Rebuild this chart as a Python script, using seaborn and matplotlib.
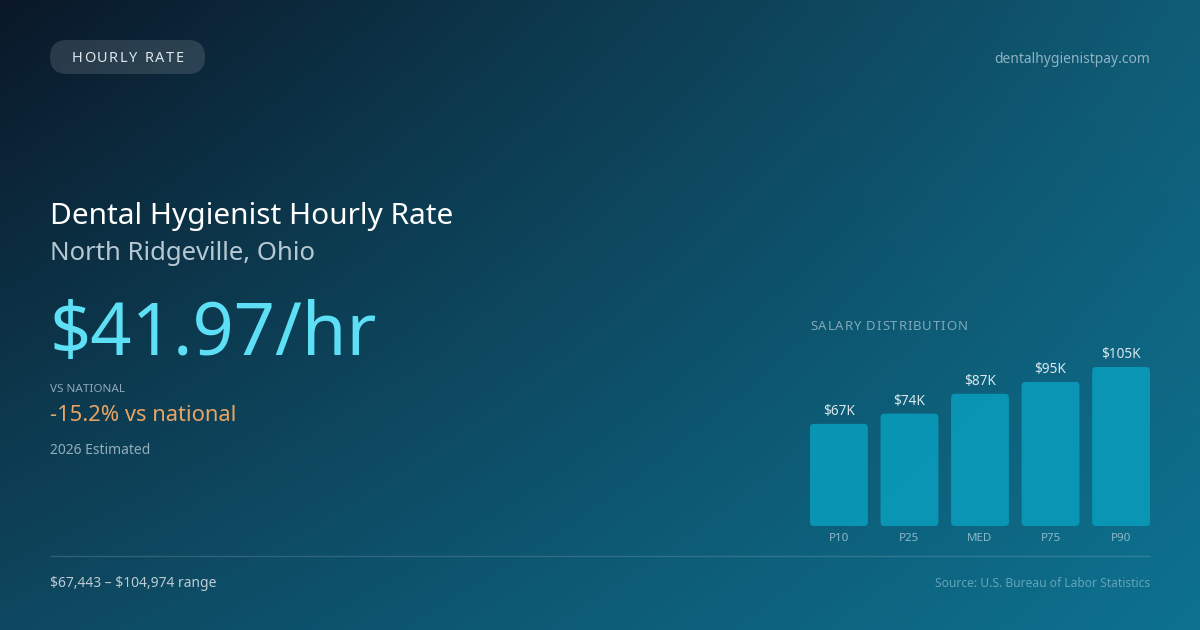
import numpy as np
import pandas as pd
import matplotlib.pyplot as plt
from matplotlib.patches import FancyBboxPatch
from matplotlib.font_manager import FontProperties
import seaborn as sns

# salary percentiles (annual, USD)
percentiles = ["P10", "P25", "MED", "P75", "P90"]
salaries = [67443, 74200, 87298, 95100, 104974]

title = "Dental Hygienist Hourly Rate"
location = "North Ridgeville, Ohio"
hourly = 41.97
vs_national = -15.2

sns.set_theme(style="white")
plt.rcParams['font.family'] = ['Noto Sans', 'DejaVu Sans']

W, H = 1200, 630
fig = plt.figure(figsize=(12, 6.3), dpi=100)
renderer = fig.canvas.get_renderer()

# background canvas in pixel coordinates
bg = fig.add_axes([0, 0, 1, 1])
bg.set_xlim(0, W)
bg.set_ylim(H, 0)
bg.axis('off')


def spaced_text(ax, x, y, s, size, color, spacing, ha='left', **kw):
    # draw text char by char with extra letter spacing (px)
    prop = FontProperties(family=['Noto Sans', 'DejaVu Sans'], size=size)
    widths = [renderer.get_text_width_height_descent(c, prop, ismath=False)[0] for c in s]
    total = sum(widths) + spacing * (len(s) - 1)
    if ha == 'center':
        x = x - total / 2
    for c, w in zip(s, widths):
        ax.text(x, y, c, fontproperties=prop, color=color, va='baseline', **kw)
        x += w + spacing


tl = np.array([10, 24, 40]) / 255
tr = np.array([16, 92, 118]) / 255
bl = np.array([14, 72, 96]) / 255
br = np.array([13, 114, 144]) / 255
u = np.linspace(0, 1, 240)[None, :, None]
v = np.linspace(0, 1, 126)[:, None, None]
grad = (1 - u) * (1 - v) * tl + u * (1 - v) * tr + (1 - u) * v * bl + u * v * br
bg.imshow(grad, extent=(0, W, H, 0), aspect='auto', interpolation='bicubic', zorder=0)

# pill
bg.add_patch(FancyBboxPatch((50, 40), 155, 34, boxstyle="round,pad=0,rounding_size=17",
                            facecolor=(1, 1, 1, 0.13), edgecolor='none', zorder=1))
spaced_text(bg, 127.5, 62, "HOURLY RATE", 10.5, '#dfe6ea', 1.6, ha='center', zorder=2)
bg.text(1150, 63, "dentalhygienistpay.com", color='#8db3c3', fontsize=10, ha='right', va='baseline')

bg.text(50, 224, title, color='white', fontsize=21.5, va='baseline')
bg.text(50, 260, location, color='#b6c8d2', fontsize=18.5, va='baseline')
bg.text(50, 355, f"${hourly:.2f}/hr", color='#5ddff5', fontsize=52, va='baseline')
bg.text(50, 392, "VS NATIONAL", color='#8fa9b7', fontsize=8.4, va='baseline')
bg.text(50, 421, f"{vs_national:.1f}% vs national", color='#e9a463', fontsize=15.8, va='baseline')
bg.text(50, 454, "2026 Estimated", color='#93adba', fontsize=10, va='baseline')

bg.plot([50, 1150], [556, 556], color=(1, 1, 1, 0.14), lw=1)
bg.text(50, 587, f"\\${salaries[0]:,} \u2013 \\${salaries[-1]:,} range", color='#bccbd3',
        fontsize=10, va='baseline')
bg.text(1150, 587, "Source: U.S. Bureau of Labor Statistics", color='#64a3b8', fontsize=8.7,
        ha='right', va='baseline')

spaced_text(bg, 810, 330, "SALARY DISTRIBUTION", 9.5, '#80a9b9', 0.9)

# bar chart
ax = fig.add_axes([810 / W, 1 - 526 / H, 340 / W, 159 / H])
ax.patch.set_alpha(0)
df = pd.DataFrame({"pct": percentiles, "salary": salaries})
sns.barplot(data=df, x="pct", y="salary", color='#0a98b8', width=0.82, saturation=1, ax=ax)
ax.set_xlim(-0.41, 4.41)
ax.set_ylim(0, max(salaries))

xpp = 4.82 / 340
ypp = max(salaries) / 159
for p in list(ax.patches):
    x0, y0 = p.get_x(), p.get_y()
    w, h = p.get_width(), p.get_height()
    p.set_visible(False)
    ax.add_patch(FancyBboxPatch((x0, y0), w, h,
                                boxstyle=f"round,pad=0,rounding_size={4 * xpp}",
                                mutation_aspect=ypp / xpp,
                                facecolor='#0a98b8', edgecolor='none', alpha=0.95))

ax.bar_label(ax.containers[0], labels=[f"${round(s / 1000)}K" for s in salaries],
             padding=3.5, color='#d8e7ee', fontsize=9.8)
ax.set_xlabel("")
ax.set_ylabel("")
ax.set_yticks([])
ax.tick_params(axis='x', length=0, pad=5, labelsize=8.3, labelcolor='#8cb9c9')
sns.despine(ax=ax, left=True, bottom=True)

fig.savefig("out.png", dpi=100)
